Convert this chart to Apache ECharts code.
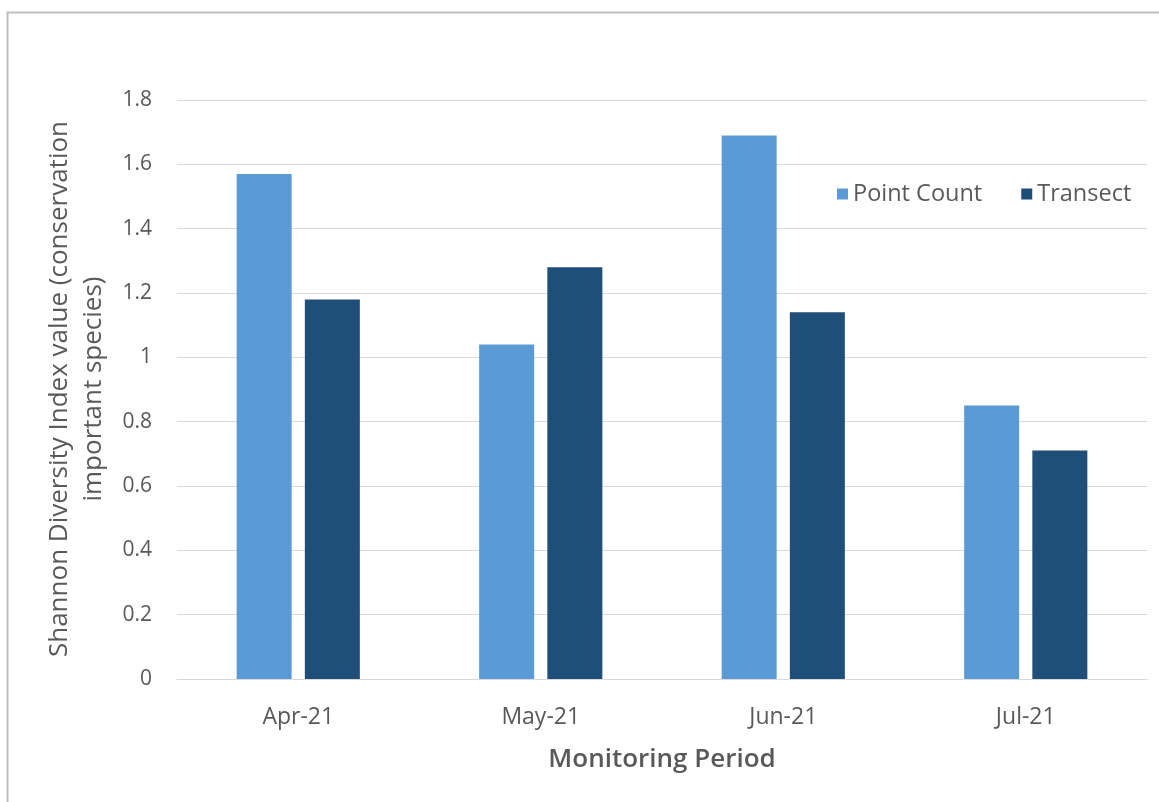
<!DOCTYPE html>
<html>
<head>
<meta charset="utf-8">
<style>
  html, body { margin: 0; padding: 0; background: #ffffff; }
  #chart { width: 1159px; height: 802px; }
</style>
<script src="https://cdn.jsdelivr.net/npm/echarts@6/dist/echarts.min.js"></script>
</head>
<body>
<div id="chart"></div>
<script>
// Monitoring months and Shannon Diversity Index values per survey method
const periods = ['Apr-21', 'May-21', 'Jun-21', 'Jul-21'];
const pointCount = [1.57, 1.04, 1.69, 0.85];
const transect = [1.18, 1.28, 1.14, 0.71];
const yTicks = { min: 0, max: 1.8, interval: 0.2 };

const FONT = '"Open Sans", "Noto Sans", sans-serif';
const TEXT = '#595959';

const chart = echarts.init(document.getElementById('chart'), null, { renderer: 'canvas' });

chart.setOption({
  backgroundColor: '#ffffff',
  animation: false,
  textStyle: { fontFamily: FONT },
  graphic: [
    {
      type: 'rect',
      shape: { x: 7.5, y: 12.5, width: 1300, height: 1000 },
      style: { fill: 'none', stroke: '#bfbfbf', lineWidth: 2 },
      silent: true
    },
    {
      type: 'text',
      rotation: Math.PI / 2,
      x: 77,
      y: 389,
      style: {
        text: 'Shannon Diversity Index value (conservation\nimportant species)',
        fill: TEXT,
        font: '26px ' + FONT,
        align: 'center',
        verticalAlign: 'middle',
        lineHeight: 34
      },
      silent: true
    }
  ],
  legend: {
    data: ['Point Count', 'Transect'],
    left: 832,
    top: 177,
    itemWidth: 11,
    itemHeight: 11,
    itemGap: 39,
    icon: 'rect',
    textStyle: { color: TEXT, fontSize: 23.5, fontFamily: FONT }
  },
  grid: {
    left: 177,
    right: 12,
    top: 100,
    bottom: 123
  },
  xAxis: {
    type: 'category',
    data: periods,
    name: 'Monitoring Period',
    nameLocation: 'middle',
    nameGap: 68,
    nameTextStyle: { color: TEXT, fontSize: 26, fontWeight: 600, fontFamily: FONT },
    axisLine: { lineStyle: { color: '#d9d9d9', width: 1 } },
    axisTick: { show: false },
    axisLabel: { color: TEXT, fontSize: 23, margin: 27, fontFamily: FONT }
  },
  yAxis: {
    type: 'value',
    min: yTicks.min,
    max: yTicks.max,
    interval: yTicks.interval,
    axisLine: { show: false },
    axisTick: { show: false },
    splitLine: { lineStyle: { color: '#d9d9d9', width: 1 } },
    axisLabel: {
      color: TEXT,
      fontSize: 21,
      margin: 25,
      fontFamily: FONT,
      formatter: v => String(Math.round(v * 10) / 10)
    }
  },
  series: [
    {
      name: 'Point Count',
      type: 'bar',
      data: pointCount,
      barWidth: 55,
      barGap: '24%',
      itemStyle: { color: '#5b9bd5' }
    },
    {
      name: 'Transect',
      type: 'bar',
      data: transect,
      barWidth: 55,
      itemStyle: { color: '#1f4e79' }
    }
  ]
});
</script>
</body>
</html>
